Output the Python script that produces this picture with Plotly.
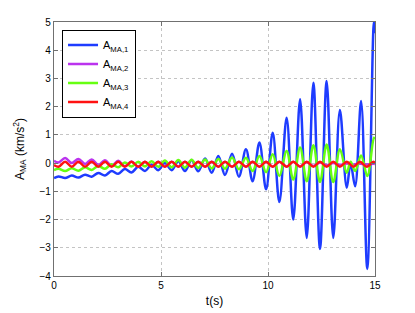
import plotly.graph_objects as go

# time of extrema for A_MA1 / A_MA3 (s)
t_bg = [0, 0.21, 0.52, 0.83, 1.14, 1.45, 1.76, 2.07, 2.38, 2.69, 3.0, 3.31, 3.62, 3.94, 4.25,
        4.56, 4.87, 5.18, 5.5, 5.81, 6.12, 6.43, 6.74, 7.06, 7.37, 7.68, 7.99, 8.32, 8.64, 8.97,
        9.28, 9.6, 9.91, 10.22, 10.53, 10.87, 11.18, 11.5, 11.81, 12.12, 12.43, 12.74, 13.05,
        13.36, 13.68, 13.86, 14.07, 14.35, 14.64, 14.95, 15.0]

a_ma1 = [-0.53, -0.47, -0.53, -0.44, -0.51, -0.41, -0.48, -0.35, -0.44, -0.28, -0.38, -0.21,
         -0.33, -0.13, -0.28, -0.06, -0.25, 0.0, -0.25, 0.07, -0.28, 0.11, -0.29, 0.16, -0.34,
         0.25, -0.42, 0.33, -0.48, 0.49, -0.64, 0.73, -0.93, 1.08, -1.38, 1.61, -2.0, 2.26,
         -2.65, 2.85, -3.04, 2.91, -2.65, 1.88, -0.87, 0.0, -0.82, 2.2, -3.75, 5.0, 4.6]

a_ma3 = [-0.25, -0.2, -0.28, -0.18, -0.27, -0.15, -0.24, -0.1, -0.2, -0.04, -0.15, 0.02,
         -0.12, 0.05, -0.12, 0.07, -0.13, 0.09, -0.15, 0.11, -0.16, 0.12, -0.17, 0.13, -0.19,
         0.15, -0.2, 0.2, -0.22, 0.19, -0.28, 0.25, -0.32, 0.31, -0.46, 0.43, -0.58, 0.55,
         -0.64, 0.63, -0.67, 0.66, -0.67, 0.49, -0.34, 0.05, -0.28, 0.27, -0.46, 0.9, 0.85]

# time of extrema for A_MA2 / A_MA4 (s)
t_rm = [0, 0.21, 0.52, 0.83, 1.14, 1.45, 1.76, 2.07, 2.38, 2.69, 3.0, 3.31, 3.62, 3.94, 4.25,
        4.56, 4.87, 5.18, 5.5, 5.81, 6.12, 6.43, 6.74, 7.06, 7.37, 7.68, 7.99, 8.32, 8.64, 8.97,
        9.28, 9.6, 9.91, 10.22, 10.53, 10.87, 11.18, 11.5, 11.81, 12.12, 12.43, 12.74, 13.05,
        13.36, 13.68, 13.99, 14.3, 14.61, 14.92, 15.0]

a_ma4 = [-0.07, -0.13, 0.05, -0.13, 0.05, -0.13, 0.05, -0.13, 0.05, -0.13, 0.05, -0.13,
         0.05, -0.13, 0.05, -0.13, 0.05, -0.13, 0.05, -0.13, 0.05, -0.13, 0.05, -0.13, 0.05,
         -0.13, 0.05, -0.13, 0.05, -0.13, 0.05, -0.13, 0.05, -0.13, 0.05, -0.13, 0.05, -0.13,
         0.05, -0.13, 0.05, -0.13, 0.05, -0.13, 0.05, -0.13, 0.05, -0.13, 0.05, 0.0]

a_ma2 = [0.08, 0.02, 0.18, 0.0, 0.15, -0.03, 0.13, -0.06, 0.1, -0.09, 0.08, -0.11,
         0.06, -0.13, 0.05, -0.13, 0.05, -0.13, 0.05, -0.13, 0.05, -0.13, 0.05, -0.13, 0.05,
         -0.13, 0.05, -0.13, 0.05, -0.13, 0.05, -0.13, 0.05, -0.13, 0.05, -0.13, 0.05, -0.12,
         0.04, -0.1, 0.02, -0.07, 0.0, -0.06, -0.01, -0.05, -0.02, -0.05, -0.02, -0.03]

series = [
    ("A<sub>MA,1</sub>", t_bg, a_ma1, "#1E3CFF"),
    ("A<sub>MA,2</sub>", t_rm, a_ma2, "#BB33EE"),
    ("A<sub>MA,3</sub>", t_bg, a_ma3, "#66FF11"),
    ("A<sub>MA,4</sub>", t_rm, a_ma4, "#FF1111"),
]

x_ticks = [0, 5, 10, 15]
y_ticks = [-4, -3, -2, -1, 0, 1, 2, 3, 4, 5]

fig = go.Figure()
for name, t, v, c in series:
    fig.add_trace(go.Scatter(x=t, y=v, mode="lines", name=name,
                             line=dict(color=c, width=2.5, shape="spline", smoothing=1.0)))

axis_common = dict(showline=True, linecolor="#707070", linewidth=1.2, mirror="ticks",
                   ticks="inside", ticklen=4, tickcolor="#707070",
                   showgrid=True, gridcolor="#c4c4c4", griddash="dot", gridwidth=1,
                   zeroline=False, automargin=False, tickfont=dict(size=10, color="black"))

# the page body adds an 8 px offset, so the figure is sized/margined to compensate
fig.update_layout(
    width=407, height=305,
    margin=dict(l=46, r=40, t=14, b=37),
    paper_bgcolor="white", plot_bgcolor="white",
    font=dict(family="Liberation Sans, Arial, sans-serif", size=10, color="black"),
    xaxis=dict(range=[0, 15], tickvals=x_ticks, title=dict(text="t(s)", standoff=6), **axis_common),
    yaxis=dict(range=[-4, 5], tickvals=y_ticks,
               title=dict(text="A<sub>MA</sub> (km/s<sup>2</sup>)", standoff=12), **axis_common),
    legend=dict(x=0.025, y=0.97, xanchor="left", yanchor="top", bgcolor="white",
                bordercolor="black", borderwidth=1, font=dict(size=11), itemwidth=30,
                tracegroupgap=3),
    showlegend=True,
)

fig.write_html("out.html")
